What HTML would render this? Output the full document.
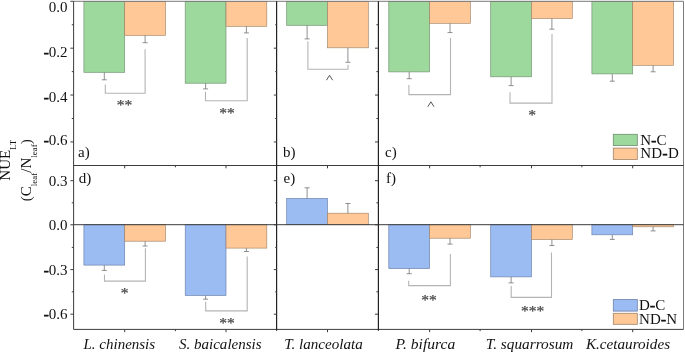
<!DOCTYPE html><html><head><meta charset="utf-8"><style>html,body{margin:0;padding:0;background:#fff;width:685px;height:352px;overflow:hidden;font-family:"Liberation Serif",serif}</style></head><body><svg width="685" height="352" viewBox="0 0 685 352" style="position:absolute;left:0;top:0;will-change:transform">
<rect x="83.90" y="1.30" width="40.80" height="71.00" fill="#9dd89d" stroke="#6f8f6f" stroke-width="0.65"/>
<path d="M104.30 72.30V79.80M101.80 79.80H106.80" stroke="#7c7c7c" stroke-width="0.85" fill="none"/>
<rect x="124.70" y="1.30" width="40.80" height="34.10" fill="#ffc896" stroke="#a08468" stroke-width="0.65"/>
<path d="M145.10 35.40V42.70M142.60 42.70H147.60" stroke="#7c7c7c" stroke-width="0.85" fill="none"/>
<rect x="83.90" y="224.70" width="40.80" height="40.40" fill="#9bbbf3" stroke="#6a7fa8" stroke-width="0.65"/>
<path d="M104.30 265.10V270.40M101.80 270.40H106.80" stroke="#7c7c7c" stroke-width="0.85" fill="none"/>
<rect x="124.70" y="224.70" width="40.80" height="16.50" fill="#ffc896" stroke="#a08468" stroke-width="0.65"/>
<path d="M145.10 241.20V246.00M142.60 246.00H147.60" stroke="#7c7c7c" stroke-width="0.85" fill="none"/>
<rect x="185.20" y="1.30" width="40.80" height="81.90" fill="#9dd89d" stroke="#6f8f6f" stroke-width="0.65"/>
<path d="M205.60 83.20V88.90M203.10 88.90H208.10" stroke="#7c7c7c" stroke-width="0.85" fill="none"/>
<rect x="226.00" y="1.30" width="40.80" height="25.00" fill="#ffc896" stroke="#a08468" stroke-width="0.65"/>
<path d="M246.40 26.30V32.90M243.90 32.90H248.90" stroke="#7c7c7c" stroke-width="0.85" fill="none"/>
<rect x="185.20" y="224.70" width="40.80" height="70.80" fill="#9bbbf3" stroke="#6a7fa8" stroke-width="0.65"/>
<path d="M205.60 295.50V299.20M203.10 299.20H208.10" stroke="#7c7c7c" stroke-width="0.85" fill="none"/>
<rect x="226.00" y="224.70" width="40.80" height="23.40" fill="#ffc896" stroke="#a08468" stroke-width="0.65"/>
<path d="M246.40 248.10V251.50M243.90 251.50H248.90" stroke="#7c7c7c" stroke-width="0.85" fill="none"/>
<rect x="286.70" y="1.30" width="40.80" height="24.00" fill="#9dd89d" stroke="#6f8f6f" stroke-width="0.65"/>
<path d="M307.10 25.30V38.90M304.60 38.90H309.60" stroke="#7c7c7c" stroke-width="0.85" fill="none"/>
<rect x="327.50" y="1.30" width="40.80" height="46.50" fill="#ffc896" stroke="#a08468" stroke-width="0.65"/>
<path d="M347.90 47.80V62.30M345.40 62.30H350.40" stroke="#7c7c7c" stroke-width="0.85" fill="none"/>
<rect x="286.70" y="198.40" width="40.80" height="26.30" fill="#9bbbf3" stroke="#6a7fa8" stroke-width="0.65"/>
<path d="M307.10 198.40V187.80M304.60 187.80H309.60" stroke="#7c7c7c" stroke-width="0.85" fill="none"/>
<rect x="327.50" y="213.20" width="40.80" height="11.50" fill="#ffc896" stroke="#a08468" stroke-width="0.65"/>
<path d="M347.90 213.20V203.50M345.40 203.50H350.40" stroke="#7c7c7c" stroke-width="0.85" fill="none"/>
<rect x="388.80" y="1.30" width="40.80" height="70.60" fill="#9dd89d" stroke="#6f8f6f" stroke-width="0.65"/>
<path d="M409.20 71.90V78.70M406.70 78.70H411.70" stroke="#7c7c7c" stroke-width="0.85" fill="none"/>
<rect x="429.60" y="1.30" width="40.80" height="22.00" fill="#ffc896" stroke="#a08468" stroke-width="0.65"/>
<path d="M450.00 23.30V32.60M447.50 32.60H452.50" stroke="#7c7c7c" stroke-width="0.85" fill="none"/>
<rect x="388.80" y="224.70" width="40.80" height="43.90" fill="#9bbbf3" stroke="#6a7fa8" stroke-width="0.65"/>
<path d="M409.20 268.60V273.70M406.70 273.70H411.70" stroke="#7c7c7c" stroke-width="0.85" fill="none"/>
<rect x="429.60" y="224.70" width="40.80" height="13.50" fill="#ffc896" stroke="#a08468" stroke-width="0.65"/>
<path d="M450.00 238.20V244.10M447.50 244.10H452.50" stroke="#7c7c7c" stroke-width="0.85" fill="none"/>
<rect x="490.70" y="1.30" width="40.80" height="75.50" fill="#9dd89d" stroke="#6f8f6f" stroke-width="0.65"/>
<path d="M511.10 76.80V85.60M508.60 85.60H513.60" stroke="#7c7c7c" stroke-width="0.85" fill="none"/>
<rect x="531.50" y="1.30" width="40.80" height="17.20" fill="#ffc896" stroke="#a08468" stroke-width="0.65"/>
<path d="M551.90 18.50V29.20M549.40 29.20H554.40" stroke="#7c7c7c" stroke-width="0.85" fill="none"/>
<rect x="490.70" y="224.70" width="40.80" height="52.20" fill="#9bbbf3" stroke="#6a7fa8" stroke-width="0.65"/>
<path d="M511.10 276.90V282.90M508.60 282.90H513.60" stroke="#7c7c7c" stroke-width="0.85" fill="none"/>
<rect x="531.50" y="224.70" width="40.80" height="14.80" fill="#ffc896" stroke="#a08468" stroke-width="0.65"/>
<path d="M551.90 239.50V245.50M549.40 245.50H554.40" stroke="#7c7c7c" stroke-width="0.85" fill="none"/>
<rect x="591.90" y="1.30" width="40.80" height="72.60" fill="#9dd89d" stroke="#6f8f6f" stroke-width="0.65"/>
<path d="M612.30 73.90V81.20M609.80 81.20H614.80" stroke="#7c7c7c" stroke-width="0.85" fill="none"/>
<rect x="632.70" y="1.30" width="40.80" height="64.00" fill="#ffc896" stroke="#a08468" stroke-width="0.65"/>
<path d="M653.10 65.30V71.80M650.60 71.80H655.60" stroke="#7c7c7c" stroke-width="0.85" fill="none"/>
<rect x="591.90" y="224.70" width="40.80" height="10.10" fill="#9bbbf3" stroke="#6a7fa8" stroke-width="0.65"/>
<path d="M612.30 234.80V239.40M609.80 239.40H614.80" stroke="#7c7c7c" stroke-width="0.85" fill="none"/>
<rect x="632.70" y="224.70" width="40.80" height="2.10" fill="#ffc896" stroke="#a08468" stroke-width="0.65"/>
<path d="M653.10 226.80V230.90M650.60 230.90H655.60" stroke="#7c7c7c" stroke-width="0.85" fill="none"/>
<path d="M105.30 84.40V93.20H145.10V49.20" stroke="#b4b4b4" stroke-width="1.1" fill="none"/>
<path d="M205.50 91.70V100.70H247.20V37.90" stroke="#b4b4b4" stroke-width="1.1" fill="none"/>
<path d="M307.90 41.40V69.20H348.00V64.80" stroke="#b4b4b4" stroke-width="1.1" fill="none"/>
<path d="M408.90 84.90V94.60H450.50V38.00" stroke="#b4b4b4" stroke-width="1.1" fill="none"/>
<path d="M510.00 92.20V103.10H552.00V33.90" stroke="#b4b4b4" stroke-width="1.1" fill="none"/>
<path d="M104.50 274.60V281.10H145.40V248.20" stroke="#b4b4b4" stroke-width="1.1" fill="none"/>
<path d="M205.70 301.70V310.90H247.20V256.40" stroke="#b4b4b4" stroke-width="1.1" fill="none"/>
<path d="M408.70 280.80V285.60H450.40V253.90" stroke="#b4b4b4" stroke-width="1.1" fill="none"/>
<path d="M511.20 286.00V297.40H551.50V252.60" stroke="#b4b4b4" stroke-width="1.1" fill="none"/>
<path d="M73.6 1.3H683.5V329.4" stroke="#7a7a7a" stroke-width="1" fill="none"/>
<path d="M73.6 165.5H683.5M73.6 224.7H683.5" stroke="#3c3c3c" stroke-width="1" fill="none"/>
<path d="M73.6 329.4H683.5" stroke="#3c3c3c" stroke-width="1" fill="none"/>
<path d="M73.6 1.3V329.4" stroke="#3c3c3c" stroke-width="1" fill="none"/>
<path d="M276.6 1.3V330.79999999999995M378.4 1.3V330.79999999999995" stroke="#222" stroke-width="1.2" fill="none"/>
<path d="M70.40 1.30H73.60M71.80 24.74H73.60M70.40 48.18H73.60M71.80 71.62H73.60M70.40 95.06H73.60M71.80 118.50H73.60M70.40 141.94H73.60M70.40 180.70H73.60M71.80 202.80H73.60M70.40 224.80H73.60M71.80 247.40H73.60M70.40 269.60H73.60M71.80 291.80H73.60M70.40 314.20H73.60M275.20 24.74H277.00M273.80 48.18H277.00M275.20 71.62H277.00M273.80 95.06H277.00M275.20 118.50H277.00M273.80 141.94H277.00M273.80 180.70H277.00M275.20 202.80H277.00M273.80 224.80H277.00M275.20 247.40H277.00M273.80 269.60H277.00M275.20 291.80H277.00M273.80 314.20H277.00M376.40 24.74H378.20M375.00 48.18H378.20M376.40 71.62H378.20M375.00 95.06H378.20M376.40 118.50H378.20M375.00 141.94H378.20M375.00 180.70H378.20M376.40 202.80H378.20M375.00 224.80H378.20M376.40 247.40H378.20M375.00 269.60H378.20M376.40 291.80H378.20M375.00 314.20H378.20M124.70 165.5v2.8M124.70 329.4v2.8M226.00 165.5v2.8M226.00 329.4v2.8M327.50 165.5v2.8M327.50 329.4v2.8M429.60 165.5v2.8M429.60 329.4v2.8M531.50 165.5v2.8M531.50 329.4v2.8M632.70 165.5v2.8M632.70 329.4v2.8M175.40 165.5v1.8M175.40 329.4v1.8M480.10 165.5v1.8M480.10 329.4v1.8M581.90 165.5v1.8M581.90 329.4v1.8" stroke="#3c3c3c" stroke-width="1" fill="none"/>
<rect x="613.3" y="134.3" width="24.0" height="11.3" fill="#9dd89d" stroke="#6f8f6f" stroke-width="0.8"/>
<rect x="613.3" y="148.1" width="24.0" height="11.3" fill="#ffc896" stroke="#a08468" stroke-width="0.8"/>
<rect x="613.3" y="299.6" width="24.0" height="11.5" fill="#9bbbf3" stroke="#6a7fa8" stroke-width="0.8"/>
<rect x="613.3" y="313.3" width="24.0" height="11.0" fill="#ffc896" stroke="#a08468" stroke-width="0.8"/>
<text x="640.2" y="144.7" font-size="15" text-anchor="start" font-family="Liberation Serif, serif" fill="#111" letter-spacing="0.2">N<tspan stroke="#111" stroke-width="0.7">-</tspan>C</text>
<text x="640.2" y="158.1" font-size="15" text-anchor="start" font-family="Liberation Serif, serif" fill="#111" letter-spacing="0.35">ND<tspan stroke="#111" stroke-width="0.7">-</tspan>D</text>
<text x="638.9" y="309.5" font-size="15" text-anchor="start" font-family="Liberation Serif, serif" fill="#111" letter-spacing="0.3">D<tspan stroke="#111" stroke-width="0.7">-</tspan>C</text>
<text x="638.9" y="323.6" font-size="15" text-anchor="start" font-family="Liberation Serif, serif" fill="#111" letter-spacing="0.2">ND<tspan stroke="#111" stroke-width="0.7">-</tspan>N</text>
<text x="67.6" y="12.0" font-size="15" text-anchor="end" font-family="Liberation Serif, serif" fill="#111" >0.0</text>
<text x="67.6" y="57.0" font-size="15" text-anchor="end" font-family="Liberation Serif, serif" fill="#111" ><tspan stroke="#111" stroke-width="0.7">-</tspan>0.2</text>
<text x="67.6" y="101.6" font-size="15" text-anchor="end" font-family="Liberation Serif, serif" fill="#111" ><tspan stroke="#111" stroke-width="0.7">-</tspan>0.4</text>
<text x="67.6" y="145.1" font-size="15" text-anchor="end" font-family="Liberation Serif, serif" fill="#111" ><tspan stroke="#111" stroke-width="0.7">-</tspan>0.6</text>
<text x="67.6" y="185.8" font-size="15" text-anchor="end" font-family="Liberation Serif, serif" fill="#111" >0.3</text>
<text x="67.6" y="230.0" font-size="15" text-anchor="end" font-family="Liberation Serif, serif" fill="#111" >0.0</text>
<text x="67.6" y="274.9" font-size="15" text-anchor="end" font-family="Liberation Serif, serif" fill="#111" ><tspan stroke="#111" stroke-width="0.7">-</tspan>0.3</text>
<text x="67.6" y="319.2" font-size="15" text-anchor="end" font-family="Liberation Serif, serif" fill="#111" ><tspan stroke="#111" stroke-width="0.7">-</tspan>0.6</text>
<text x="78" y="156.6" font-size="15" text-anchor="start" font-family="Liberation Serif, serif" fill="#111" >a)</text>
<text x="283" y="156.8" font-size="15" text-anchor="start" font-family="Liberation Serif, serif" fill="#111" >b)</text>
<text x="385" y="157.0" font-size="15" text-anchor="start" font-family="Liberation Serif, serif" fill="#111" >c)</text>
<text x="78.8" y="183.1" font-size="15" text-anchor="start" font-family="Liberation Serif, serif" fill="#111" >d)</text>
<text x="283.5" y="183.1" font-size="15" text-anchor="start" font-family="Liberation Serif, serif" fill="#111" >e)</text>
<text x="386" y="183.0" font-size="15" text-anchor="start" font-family="Liberation Serif, serif" fill="#111" >f)</text>
<text x="83.50" y="348.5" font-size="15" textLength="71.6" lengthAdjust="spacingAndGlyphs" font-style="italic" font-family="Liberation Serif, serif" fill="#111">L. chinensis</text>
<text x="179.00" y="348.5" font-size="15" textLength="82.6" lengthAdjust="spacingAndGlyphs" font-style="italic" font-family="Liberation Serif, serif" fill="#111">S. baicalensis</text>
<text x="284.20" y="348.5" font-size="15" textLength="78.6" lengthAdjust="spacingAndGlyphs" font-style="italic" font-family="Liberation Serif, serif" fill="#111">T. lanceolata</text>
<text x="395.55" y="348.5" font-size="15" textLength="59.7" lengthAdjust="spacingAndGlyphs" font-style="italic" font-family="Liberation Serif, serif" fill="#111">P. bifurca</text>
<text x="485.85" y="348.5" font-size="15" textLength="87.5" lengthAdjust="spacingAndGlyphs" font-style="italic" font-family="Liberation Serif, serif" fill="#111">T. squarrosum</text>
<text x="585.95" y="348.5" font-size="15" textLength="84.1" lengthAdjust="spacingAndGlyphs" font-style="italic" font-family="Liberation Serif, serif" fill="#111">K.cetauroides</text>
<text x="124.5" y="110.2" font-size="15.5" text-anchor="middle" font-family="Liberation Serif, serif" fill="#4a4a4a" stroke="#4a4a4a" stroke-width="0.25">**</text>
<text x="226.9" y="117.7" font-size="15.5" text-anchor="middle" font-family="Liberation Serif, serif" fill="#4a4a4a" stroke="#4a4a4a" stroke-width="0.25">**</text>
<path d="M326.45 80.20L329.55 75.30L332.65 80.20" stroke="#4a4a4a" stroke-width="0.95" fill="none" stroke-linejoin="miter"/>
<path d="M427.80 106.70L430.90 101.80L434.00 106.70" stroke="#4a4a4a" stroke-width="0.95" fill="none" stroke-linejoin="miter"/>
<text x="532.0" y="119.9" font-size="15.5" text-anchor="middle" font-family="Liberation Serif, serif" fill="#4a4a4a" stroke="#4a4a4a" stroke-width="0.25">*</text>
<text x="124.7" y="298.1" font-size="15.5" text-anchor="middle" font-family="Liberation Serif, serif" fill="#4a4a4a" stroke="#4a4a4a" stroke-width="0.25">*</text>
<text x="226.9" y="328.1" font-size="15.5" text-anchor="middle" font-family="Liberation Serif, serif" fill="#4a4a4a" stroke="#4a4a4a" stroke-width="0.25">**</text>
<text x="429.0" y="304.5" font-size="15.5" text-anchor="middle" font-family="Liberation Serif, serif" fill="#4a4a4a" stroke="#4a4a4a" stroke-width="0.25">**</text>
<text x="532.7" y="316.3" font-size="15.5" text-anchor="middle" font-family="Liberation Serif, serif" fill="#4a4a4a" stroke="#4a4a4a" stroke-width="0.25">***</text>
<g transform="translate(10.3,180.7) rotate(-90)"><text font-size="15" font-family="Liberation Serif, serif" fill="#111">NUE<tspan font-size="9" dy="5.5">LT</tspan></text></g>
<g transform="translate(31.0,201.2) rotate(-90)"><text font-size="15" font-family="Liberation Serif, serif" fill="#111">(C<tspan font-size="9" dy="5.5">leaf</tspan><tspan dy="-5.5">/N</tspan><tspan font-size="9" dy="5.5">leaf</tspan><tspan dy="-5.5">)</tspan></text></g>
</svg></body></html>
